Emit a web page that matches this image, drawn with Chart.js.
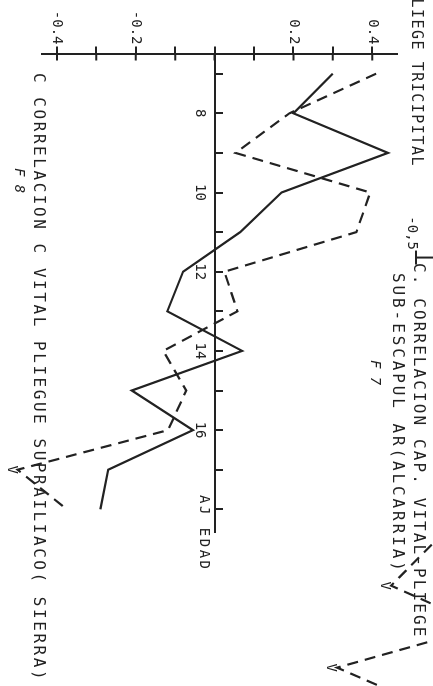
<!DOCTYPE html>
<html>
<head>
<meta charset="utf-8">
<script src="https://cdn.jsdelivr.net/npm/chart.js@4.4.1/dist/chart.umd.min.js"></script>
<style>
    html, body { margin: 0; padding: 0; background: #fff; width: 433px; height: 686px; overflow: hidden; }
    /* the plot is drawn landscape and turned a quarter clockwise, like the scan */
    #hoja { position: absolute; left: 0; top: 0; width: 686px; height: 433px; transform-origin: 0 0; transform: translateX(433px) rotate(90deg); font-family: "DejaVu Sans Mono", monospace; color: #222; }
    #hoja canvas { position: absolute; left: 0; top: 0; }
    .txt { position: absolute; white-space: pre; line-height: 1; }
    .f { font-style: italic; }
</style>
</head>
<body>
<div id="hoja">
    <canvas id="grafico" width="686" height="433"></canvas>
    <div class="txt" style="right:519px; top:9px; font-size:15px; letter-spacing:1.5px;">PLIEGE TRICIPITAL</div>
    <div class="txt" style="right:436px; top:13px; font-size:14px;">-0,5</div>
    <div class="txt" style="left:263px; top:6px; font-size:16px; letter-spacing:2.1px;">C. CORRELACION CAP. VITAL-PLIEGE</div>
    <div class="txt" style="left:273px; top:27px; font-size:16px; letter-spacing:2.9px;">SUB-ESCAPUL AR(ALCARRIA)</div>
    <div class="txt f" style="left:360px; top:50px; font-size:14px;">F 7</div>
    <div class="txt" style="left:495px; top:221px; font-size:14px; letter-spacing:2.5px;">AJ EDAD</div>
    <div class="txt" style="left:73px; top:386px; font-size:16px; letter-spacing:2.55px;">C CORRELACION C VITAL PLIEGUE SUPRAILIACO( SIERRA)</div>
    <div class="txt f" style="left:168px; top:406px; font-size:14px;">F 8</div>
</div>
<script>
// F8: correlacion capacidad vital / pliegue supriliaco, por edad
const edades = [7, 8, 9, 10, 11, 12, 13, 14, 15, 16, 17, 18];
const serieContinua = [0.30, 0.20, 0.44, 0.17, 0.065, -0.08, -0.12, 0.07, -0.21, -0.055, -0.27, -0.29];
const serieDiscontinua = [0.41, 0.19, 0.053, 0.395, 0.36, 0.025, 0.058, -0.13, -0.072, -0.118, -0.50, -0.375];

// bits of the F7 plot above that dip into this one
const edadesF7 = [14, 15, 16, 17, 18];
const serieF7 = [-0.46, -0.563, -0.33, -0.70, -0.46];

const marcasEdad = [7, 8, 9, 10, 11, 12, 13, 14, 15, 16, 17, 18];
const etiquetasEdad = [8, 10, 12, 14, 16];
const marcasCorrelacion = [-0.4, -0.3, -0.2, -0.1, 0, 0.1, 0.2, 0.3, 0.4];
const etiquetasCorrelacion = [-0.4, -0.2, 0.2, 0.4];

const tinta = '#222';
const puntos = (xs, ys) => xs.map((x, i) => ({ x: x, y: ys[i] }));

Chart.defaults.font.family = "'DejaVu Sans Mono', monospace";
Chart.defaults.font.size = 14;
Chart.defaults.color = tinta;

// inner half of the crossing ticks, the stub of the F7 axis and the off-scale "V"
const marcas = {
    id: 'marcas',
    afterDatasetsDraw(chart) {
        const { ctx, scales: { x, y, x2, y2 } } = chart;
        ctx.save();
        ctx.strokeStyle = tinta;
        ctx.lineWidth = 2;
        ctx.beginPath();
        y.ticks.forEach(t => {
            const py = y.getPixelForValue(t.value);
            ctx.moveTo(x.left, py);
            ctx.lineTo(x.left + 7, py);
        });
        const ex = x2.getPixelForValue(7), ey = y2.getPixelForValue(-0.5);
        ctx.moveTo(ex, 0);
        ctx.lineTo(ex, ey);
        ctx.moveTo(ex - 7, ey);
        ctx.lineTo(ex + 7, ey);
        ctx.stroke();

        ctx.fillStyle = tinta;
        ctx.font = "14px 'DejaVu Sans Mono'";
        ctx.textAlign = 'center';
        ctx.textBaseline = 'top';
        chart.data.datasets.forEach((ds, i) => {
            if (ds.limite === undefined) return;
            chart.getDatasetMeta(i).data.forEach((p, j) => {
                if (ds.data[j].y < ds.limite) ctx.fillText('V', p.x, p.y - 1);
            });
        });
        ctx.restore();
    }
};

const linea = {
    borderColor: tinta,
    borderWidth: 2.2,
    pointRadius: 0,
    tension: 0,
    fill: false,
    clip: false
};

new Chart(document.getElementById('grafico'), {
    type: 'line',
    data: {
        datasets: [
            Object.assign({ label: 'continua', data: puntos(edades, serieContinua) }, linea),
            Object.assign({ label: 'discontinua', data: puntos(edades, serieDiscontinua), borderDash: [11, 7], limite: -0.44 }, linea),
            Object.assign({ label: 'F7', data: puntos(edadesF7, serieF7), borderDash: [11, 7], limite: -0.5, xAxisID: 'x2', yAxisID: 'y2' }, linea)
        ]
    },
    options: {
        responsive: false,
        animation: false,
        layout: { padding: { left: 0, right: 154.5, top: 36, bottom: 42 } },
        plugins: { legend: { display: false }, tooltip: { enabled: false } },
        scales: {
            x: {
                type: 'linear',
                position: { y: 0 },
                min: 6.49,
                max: 18.56,
                afterBuildTicks: s => { s.ticks = marcasEdad.map(v => ({ value: v })); },
                afterFit: s => { s.height = 0; },
                ticks: {
                    padding: 16,
                    maxRotation: 0,
                    autoSkip: false,
                    callback: v => etiquetasEdad.includes(v) ? String(v) : ''
                },
                grid: { drawOnChartArea: false, tickLength: -9, color: tinta, lineWidth: 2 },
                border: { color: tinta, width: 2 }
            },
            y: {
                type: 'linear',
                position: 'left',
                min: -0.438,
                max: 0.463,
                afterBuildTicks: s => { s.ticks = marcasCorrelacion.map(v => ({ value: v })); },
                afterFit: s => { s.width = 53.5; },
                ticks: {
                    padding: 2,
                    autoSkip: false,
                    callback: v => etiquetasCorrelacion.includes(v) ? v.toFixed(1) : ''
                },
                grid: { drawOnChartArea: false, tickLength: 7, color: tinta, lineWidth: 2 },
                border: { color: tinta, width: 2 }
            },
            // F7 scales: range set after the data limits so its points are not culled
            x2: { type: 'linear', display: false, bounds: 'data', afterDataLimits: s => { s.min = 2.024; s.max = 13.68; } },
            y2: { type: 'linear', display: false, bounds: 'data', afterDataLimits: s => { s.min = -1.449; s.max = -0.548; } }
        }
    },
    plugins: [marcas]
});
</script>
</body>
</html>
